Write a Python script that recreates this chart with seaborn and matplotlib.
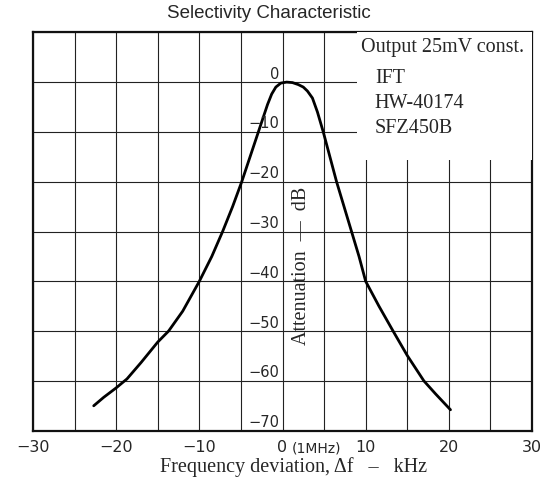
import matplotlib
matplotlib.use("Agg")
import matplotlib.pyplot as plt
import pandas as pd
import seaborn as sns
from matplotlib.patches import Rectangle

# curve (kHz, dB)
freq = [-22.7, -21.5, -20.0, -18.7, -17.0, -15.0, -13.7, -12.0, -10.0, -8.5,
        -7.2, -6.0, -4.9, -3.9, -2.9, -2.3, -1.8, -1.3, -0.8, -0.2, 0.5, 1.2,
        1.9, 2.5, 3.0, 3.6, 4.2, 4.9, 5.7, 6.5, 7.4, 8.3, 9.2, 10.0, 11.6,
        13.3, 15.0, 17.0, 18.4, 20.2]
atten = [-65.0, -63.3, -61.4, -59.6, -56.3, -52.2, -50.0, -46.0, -40.0, -35.0,
         -30.0, -25.0, -20.0, -15.0, -10.0, -7.0, -4.5, -2.4, -1.0, -0.2, 0.0, -0.1,
         -0.5, -1.0, -1.8, -3.2, -6.0, -10.0, -15.0, -20.0, -25.0, -30.0, -35.0,
         -40.0, -45.0, -50.0, -54.9, -60.0, -62.6, -65.8]

xticks = [-30, -20, -10, 0, 10, 20, 30]
xticklabels = ["\u221230", "\u221220", "\u221210", "0", "10", "20", "30"]
yticks = [0, -10, -20, -30, -40, -50, -60, -70]
yticklabels = ["0", "\u221210", "\u221220", "\u221230", "\u221240", "\u221250", "\u221260", "\u221270"]
notes = ["IFT", "HW-40174", "SFZ450B"]

df = pd.DataFrame({"freq": freq, "atten": atten})

sns.set_theme(style="white")
plt.rcParams["font.family"] = ["DejaVu Sans"]
serif = "Liberation Serif"

fig = plt.figure(figsize=(5.54, 4.81), dpi=100)
ax = fig.add_axes([33 / 554, 1 - 431.7 / 481, 499 / 554, 398.4 / 481])

sns.lineplot(data=df, x="freq", y="atten", color="black", linewidth=2.0,
             sort=False, ax=ax, zorder=5)

ax.set_xlim(-30, 30)
ax.set_ylim(-70, 10)
ax.set_yticks(range(-70, 11, 10))
ax.grid(True, color="#222222", linewidth=0.8)
ax.set_axisbelow(True)
for s in ax.spines.values():
    s.set_color("#111111")
    s.set_linewidth(1.6)

# grid every 5 kHz, labels every 10 kHz
ax.set_xticks(range(-30, 31, 5))
ax.set_xticklabels([xticklabels[xticks.index(v)] if v in xticks else "" for v in range(-30, 31, 5)],
                   fontsize=11.5)
ax.tick_params(axis="x", length=0, pad=6)
ax.tick_params(axis="y", length=0, labelleft=False)
ax.text(1.1, -0.042, "(1MHz)", transform=ax.get_xaxis_transform(), ha="left", va="center",
        fontsize=10)

# y tick labels sit inside the plot, just left of the 0 kHz line
for v, lab in zip(yticks, yticklabels):
    ax.text(-0.35, v + 1.8, lab, ha="right", va="center", fontsize=10.5, zorder=6)

ax.text(2.3, -36.8, "Attenuation  \u2014  dB", rotation=90, ha="center", va="center",
        family=serif, fontsize=14.5, zorder=6)

ax.set_xlabel("Frequency deviation, \u0394f   \u2013   kHz", family=serif, fontsize=14.5,
              va="center")
ax.xaxis.set_label_coords((294 - 33) / 499, -0.088)
ax.set_ylabel("")

# white note box in the upper right
ax.add_patch(Rectangle((0.649, 0.6795), 0.351, 0.3205, transform=ax.transAxes,
                       facecolor="white", edgecolor="none", zorder=3))
ax.text(0.984, 0.964, "Output 25mV const.", transform=ax.transAxes, ha="right",
        va="center", family=serif, fontsize=14.5, zorder=6)
for i, t in enumerate(notes):
    ax.text(0.685, 0.887 - 0.063 * i, t, transform=ax.transAxes, ha="left",
            va="center", family=serif, fontsize=14.5, zorder=6)

ax.text(0.473, 1.0485, "Selectivity Characteristic", transform=ax.transAxes,
        ha="center", va="center", family="Liberation Sans", fontsize=13.5)

fig.savefig("out.png", dpi=100)
